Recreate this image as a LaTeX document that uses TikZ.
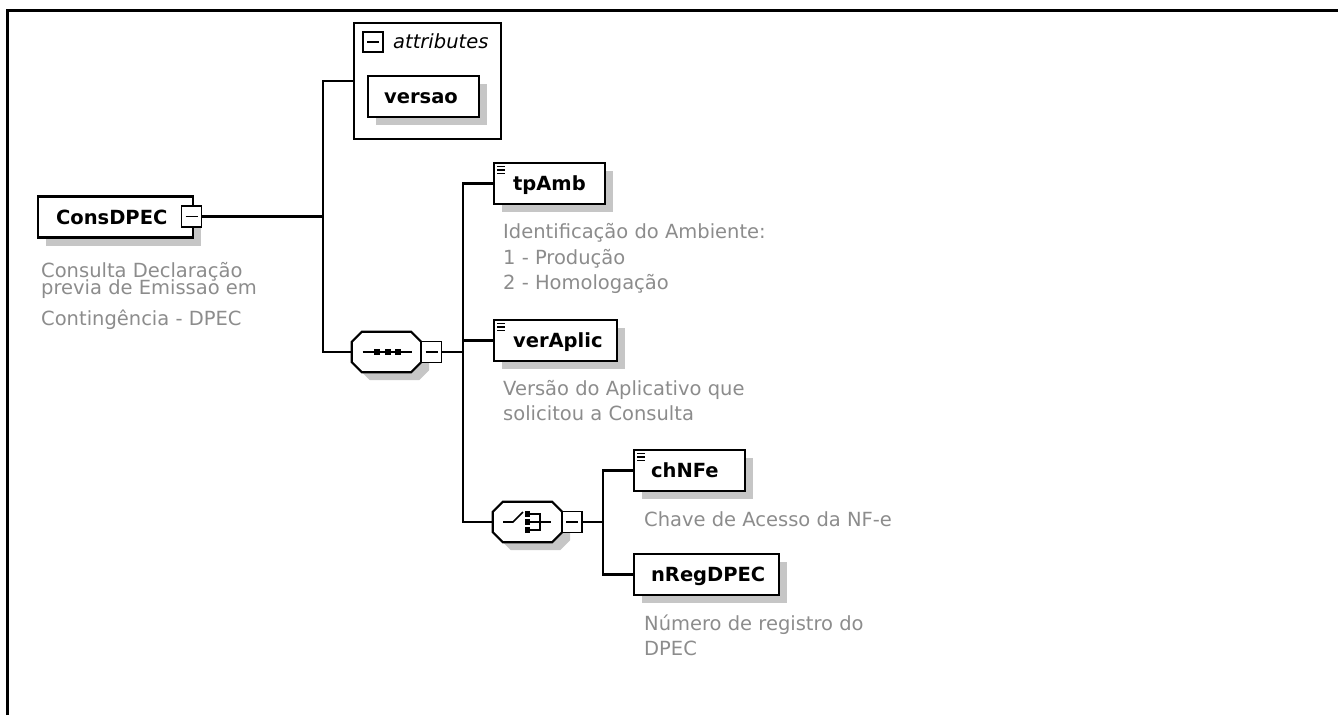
\documentclass[tikz,border=0pt]{standalone}
\usepackage{fontspec}
\setmainfont{DejaVu Sans}
\usetikzlibrary{shadows}
\definecolor{desctext}{RGB}{140,140,140}
\definecolor{shade}{RGB}{198,198,198}
\begin{document}
\begin{tikzpicture}[x=1pt,y=-1pt,
  every node/.style={inner sep=0pt},
  frameline/.style={line width=3pt},
  conn/.style={line width=2.2pt},
  elem/.style={draw, line width=2.2pt, fill=white, anchor=west,
    minimum height=41pt, text width=#1, align=left,
    text height=14pt, text depth=0pt,
    font=\fontsize{19.5}{24}\selectfont\bfseries,
    drop shadow={shadow xshift=8pt, shadow yshift=-8pt, fill=shade, opacity=1}},
  minusbox/.style={draw, line width=1.6pt, fill=white, minimum width=20pt, minimum height=21pt},
  compositor/.style={minimum width=69pt, minimum height=40pt},
  note/.style={anchor=base west, align=left, text=desctext,
    font=\fontsize{19.5}{25.5}\selectfont},
  icon/.style={line width=1.6pt},
  octo/.style={insert path={
    ([yshift=-10pt]#1.north west) -- ([xshift=10pt]#1.north west) --
    ([xshift=-10pt]#1.north east) -- ([yshift=-10pt]#1.north east) --
    ([yshift=10pt]#1.south east) -- ([xshift=-10pt]#1.south east) --
    ([xshift=10pt]#1.south west) -- ([yshift=10pt]#1.south west) -- cycle}}
]
\useasboundingbox (0,0) rectangle (1338,715);

% outer frame
\draw[frameline] (7.5,715) -- (7.5,10.7) -- (1338,10.7);

% root element (notes are anchored at the baseline of their last line)
\node[elem=155pt] (cons) at (37,217) {\hspace*{18pt}ConsDPEC};
\node[minusbox] (consMinus) at (191.5,216.5) {};
\draw[icon] ([xshift=-6pt]consMinus.center) -- ([xshift=6pt]consMinus.center);
\node[note] (consNote) at (41,325) {Consulta Declaração\\[-8.5pt]\smash{previa de Emissao em}\\[5.5pt]Contingência - DPEC};

% attributes group
\node[draw, line width=2.2pt, anchor=north west, minimum width=147pt, minimum height=116pt] (attr) at (353,22) {};
\node[draw, line width=1.6pt, minimum width=20pt, minimum height=20pt] (attrMinus) at (373,42) {};
\draw[icon] ([xshift=-6pt]attrMinus.center) -- ([xshift=6pt]attrMinus.center);
\node[anchor=base west, font=\fontsize{19.5}{24}\selectfont\itshape] (attrLabel) at (393,48.5) {attributes};
\node[elem=111pt] (versao) at (367,96.5) {\hspace*{16pt}versao};

% sequence compositor
\node[compositor] (seq) at (386.5,352) {};
\path[fill=shade, transform canvas={xshift=8pt, yshift=-8pt}] [octo=seq];
\draw[line width=2.2pt, fill=white] [octo=seq];
\draw[icon] ([xshift=-24pt]seq.center) -- ([xshift=25pt]seq.center);
\foreach \dx in {-9.5,1,11.5}
  \fill ([xshift=\dx pt]seq.center) +(-3,-3) rectangle +(3,3);
\node[minusbox] (seqMinus) at (431.5,352) {};
\draw[icon] ([xshift=-6pt]seqMinus.center) -- ([xshift=6pt]seqMinus.center);

% child elements of the sequence
\node[elem=111pt] (tpAmb) at (493,183.5) {\hspace*{19pt}tpAmb};
\node[note] (tpAmbNote) at (503,289.5) {Identificação do Ambiente:\\1 - Produção\\2 - Homologação};
\node[elem=123pt] (verAplic) at (493,340.5) {\hspace*{19pt}verAplic};
\node[note] (verAplicNote) at (503,420.5) {Versão do Aplicativo que\\solicitou a Consulta};

% choice compositor
\node[compositor] (choice) at (527.5,522) {};
\path[fill=shade, transform canvas={xshift=8pt, yshift=-8pt}] [octo=choice];
\draw[line width=2.2pt, fill=white] [octo=choice];
\draw[icon] ([xshift=-24.5pt]choice.center) -- ([xshift=-14.5pt]choice.center)
  -- ([shift={(-4.5,-10)}]choice.center);
\foreach \dy in {-8,0,8}
  \fill ([yshift=-\dy pt]choice.center) +(-3,-2.8) rectangle +(2.8,2.8);
\draw[icon] ([shift={(2.5,-8)}]choice.center) -- ([shift={(12.5,-8)}]choice.center)
  -- ([shift={(12.5,8)}]choice.center) -- ([shift={(2.5,8)}]choice.center);
\draw[icon] ([xshift=2.5pt]choice.center) -- ([xshift=23.5pt]choice.center);
\node[minusbox] (choiceMinus) at (572,522) {};
\draw[icon] ([xshift=-6pt]choiceMinus.center) -- ([xshift=6pt]choiceMinus.center);

% choice alternatives
\node[elem=111pt] (chNFe) at (633,470.5) {\hspace*{17pt}chNFe};
\node[note] (chNFeNote) at (644,526) {Chave de Acesso da NF-e};
\node[elem=145pt] (nReg) at (633,574.5) {\hspace*{17pt}nRegDPEC};
\node[note] (nRegNote) at (644,655.5) {Número de registro do\\DPEC};

% simple-content markers
\foreach \n in {tpAmb,verAplic,chNFe}
  \foreach \d in {4.5,8,11.5}
    \draw[line width=1.3pt] ([shift={(4,\d)}]\n.north west) -- ++(8,0);

% connectors
\coordinate (j1) at (323,216.5);
\coordinate (j2) at (463,352);
\coordinate (j3) at (603,522);
\draw[conn] (consMinus.east) -- (j1);
\draw[conn] (attr.west) -| (j1) |- (seq.west);
\draw[conn] (seqMinus.east) -- (j2);
\draw[conn] (tpAmb.west) -| (j2) |- (choice.west);
\draw[conn] (j2 |- verAplic.west) -- (verAplic.west);
\draw[conn] (choiceMinus.east) -- (j3);
\draw[conn] (chNFe.west) -| (j3) |- (nReg.west);
\end{tikzpicture}
\end{document}
